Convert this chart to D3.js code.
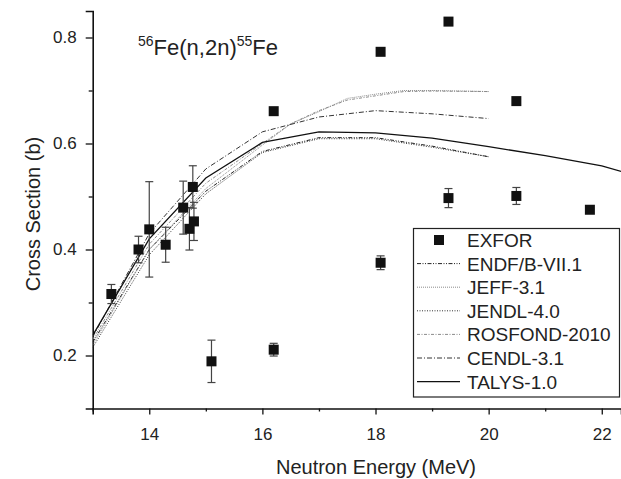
<!DOCTYPE html>
<html><head><meta charset="utf-8">
<script src="https://cdn.jsdelivr.net/npm/d3@7/dist/d3.min.js"></script>
<style>
body{margin:0;background:#fff;}
svg{display:block;font-family:"Liberation Sans",Arial,sans-serif;}
</style></head>
<body><svg id="c" width="621" height="479"></svg>
<script>
// EXFOR data: energy (MeV), cross section (b), error (b; 0 = none)
const exforE   = [13.33, 13.81, 14.0, 14.29, 14.6, 14.71, 14.77, 14.79, 15.1, 16.2, 16.2, 18.09, 18.09, 19.29, 19.29, 20.49, 20.49, 21.79];
const exforXS  = [0.316, 0.400, 0.438, 0.409, 0.479, 0.439, 0.518, 0.453, 0.189, 0.661, 0.211, 0.773, 0.375, 0.830, 0.497, 0.680, 0.501, 0.475];
const exforErr = [0.018, 0.025, 0.090, 0.033, 0.050, 0.040, 0.040, 0.036, 0.040, 0, 0.012, 0, 0.013, 0, 0.018, 0, 0.016, 0];

// Evaluated libraries / model
const endfE  = [13, 14, 15, 16, 17, 18, 19, 20];
const endfXS = [0.225, 0.400, 0.510, 0.585, 0.611, 0.611, 0.595, 0.575];
const jeffE  = [13, 14, 15, 16, 16.5, 17, 17.5, 18, 18.5, 19, 20];
const jeffXS = [0.220, 0.400, 0.515, 0.597, 0.637, 0.660, 0.685, 0.693, 0.700, 0.700, 0.698];
const jendlE  = [13, 14, 15, 16, 17, 18, 19, 20];
const jendlXS = [0.215, 0.390, 0.505, 0.583, 0.609, 0.609, 0.593, 0.575];
const rosE  = [13, 14, 15, 16, 16.5, 17, 17.5, 18, 18.5, 19, 20];
const rosXS = [0.230, 0.410, 0.525, 0.600, 0.637, 0.662, 0.682, 0.690, 0.698, 0.699, 0.698];
const cendlE  = [13, 14, 15, 16, 17, 18, 19, 20];
const cendlXS = [0.235, 0.430, 0.552, 0.622, 0.650, 0.662, 0.656, 0.647];
const talysE  = [13, 14, 15, 16, 17, 18, 19, 20, 21, 22, 22.35];
const talysXS = [0.238, 0.420, 0.535, 0.602, 0.622, 0.620, 0.610, 0.594, 0.577, 0.558, 0.547];

const legendLabels = ["EXFOR", "ENDF/B-VII.1", "JEFF-3.1", "JENDL-4.0", "ROSFOND-2010", "CENDL-3.1", "TALYS-1.0"];
const xMajorTicks = [14, 16, 18, 20, 22];
const xMinorTicks = [13, 15, 17, 19, 21];
const yMajorTicks = [0.2, 0.4, 0.6, 0.8];
const yMinorTicks = [0.3, 0.5, 0.7];

const series = [
  {name: "ENDF/B-VII.1", E: endfE, XS: endfXS, color: "#222", dash: "4,1.5,1,1.5,1,1.5", w: 1},
  {name: "JEFF-3.1", E: jeffE, XS: jeffXS, color: "#8a8a8a", dash: "1,1", w: 1},
  {name: "JENDL-4.0", E: jendlE, XS: jendlXS, color: "#333", dash: "1,1.5", w: 1},
  {name: "ROSFOND-2010", E: rosE, XS: rosXS, color: "#8a8a8a", dash: "3,1.5,1,1.5", w: 1},
  {name: "CENDL-3.1", E: cendlE, XS: cendlXS, color: "#333", dash: "5,2,1,2", w: 1},
  {name: "TALYS-1.0", E: talysE, XS: talysXS, color: "#111", dash: null, w: 1.3}
];

const svg = d3.select("#c");
const x = d3.scaleLinear().domain([13, 22.34]).range([92.7, 621]);
const y = d3.scaleLinear().domain([0.1, 0.85]).range([408.5, 11]);

// clip
svg.append("defs").append("clipPath").attr("id","clip")
  .append("rect").attr("x",92.7).attr("y",0).attr("width",621-92.7).attr("height",408.5);

// axes
const xAxisMajor = d3.axisBottom(x).tickValues(xMajorTicks).tickSize(6).tickPadding(13).tickFormat(d3.format("d"));
const xAxisMinor = d3.axisBottom(x).tickValues(xMinorTicks).tickSize(3).tickFormat("");
const gx = svg.append("g").attr("transform","translate(0,408.5)");
gx.call(xAxisMajor);
const gx2 = svg.append("g").attr("transform","translate(0,408.5)").call(xAxisMinor);
const yAxisMajor = d3.axisLeft(y).tickValues(yMajorTicks).tickSize(7).tickPadding(9).tickFormat(d3.format(".1f"));
const yAxisMinor = d3.axisLeft(y).tickValues(yMinorTicks).tickSize(4).tickFormat("");
const gy = svg.append("g").attr("transform","translate(92.7,0)").call(yAxisMajor);
const gy2 = svg.append("g").attr("transform","translate(92.7,0)").call(yAxisMinor);
[gx,gx2,gy,gy2].forEach(g=>{
  g.select(".domain").attr("stroke","#111").attr("stroke-width",1.6);
  g.selectAll(".tick line").attr("stroke","#111").attr("stroke-width",1.3);
  g.selectAll(".tick text").attr("font-size",17).attr("fill","#222").attr("font-family","Liberation Sans, Arial, sans-serif");
});
gx2.select(".domain").remove(); gy2.select(".domain").remove();

// axis titles
svg.append("text").attr("x",376).attr("y",474).attr("text-anchor","middle")
  .attr("font-size",20).attr("fill","#222").text("Neutron Energy (MeV)");
svg.append("text").attr("transform","translate(40,214) rotate(-90)").attr("text-anchor","middle")
  .attr("font-size",20).attr("fill","#222").text("Cross Section (b)");

// title
const t = svg.append("text").attr("x",138).attr("y",55).attr("font-size",22).attr("fill","#222");
t.append("tspan").attr("font-size",14).attr("dy",-9).text("56");
t.append("tspan").attr("dy",9).text("Fe(n,2n)");
t.append("tspan").attr("font-size",14).attr("dy",-9).text("55");
t.append("tspan").attr("dy",9).text("Fe");

// lines
const line = d3.line().x(d=>x(d[0])).y(d=>y(d[1]));
const gl = svg.append("g").attr("clip-path","url(#clip)");
series.forEach(s=>{
  gl.append("path").datum(s.E.map((e,i)=>[e,s.XS[i]]))
    .attr("d",line).attr("fill","none").attr("stroke",s.color)
    .attr("stroke-width",s.w).attr("stroke-dasharray",s.dash);
});

// EXFOR points
const pts = exforE.map((e,i)=>({e, v: exforXS[i], err: exforErr[i]}));
const gp = svg.append("g");
pts.filter(p=>p.err>0).forEach(p=>{
  const cx = x(p.e), y1 = y(p.v+p.err), y2 = y(p.v-p.err);
  gp.append("line").attr("x1",cx).attr("x2",cx).attr("y1",y1).attr("y2",y2).attr("stroke","#444").attr("stroke-width",1.2);
  [y1,y2].forEach(yy=>gp.append("line").attr("x1",cx-4).attr("x2",cx+4).attr("y1",yy).attr("y2",yy).attr("stroke","#444").attr("stroke-width",1.2));
});
gp.selectAll("rect.pt").data(pts).enter().append("rect").attr("class","pt")
  .attr("x",p=>x(p.e)-5).attr("y",p=>y(p.v)-5).attr("width",10).attr("height",10).attr("fill","#111");

// legend
const lg = svg.append("g");
lg.append("rect").attr("x",413.5).attr("y",228.5).attr("width",206).attr("height",168.5)
  .attr("fill","#fff").attr("stroke","#222").attr("stroke-width",1.2);
legendLabels.forEach((lab,i)=>{
  const yy = 240 + i*23.6;
  if(i===0){
    lg.append("rect").attr("x",434).attr("y",yy-5).attr("width",10).attr("height",10).attr("fill","#111");
  } else {
    const s = series[i-1];
    lg.append("line").attr("x1",417).attr("x2",460).attr("y1",yy).attr("y2",yy)
      .attr("stroke",s.color).attr("stroke-width",s.w).attr("stroke-dasharray",s.dash);
  }
  lg.append("text").attr("x",467).attr("y",yy+7).attr("font-size",19).attr("fill","#222").text(lab);
});
</script></body></html>
